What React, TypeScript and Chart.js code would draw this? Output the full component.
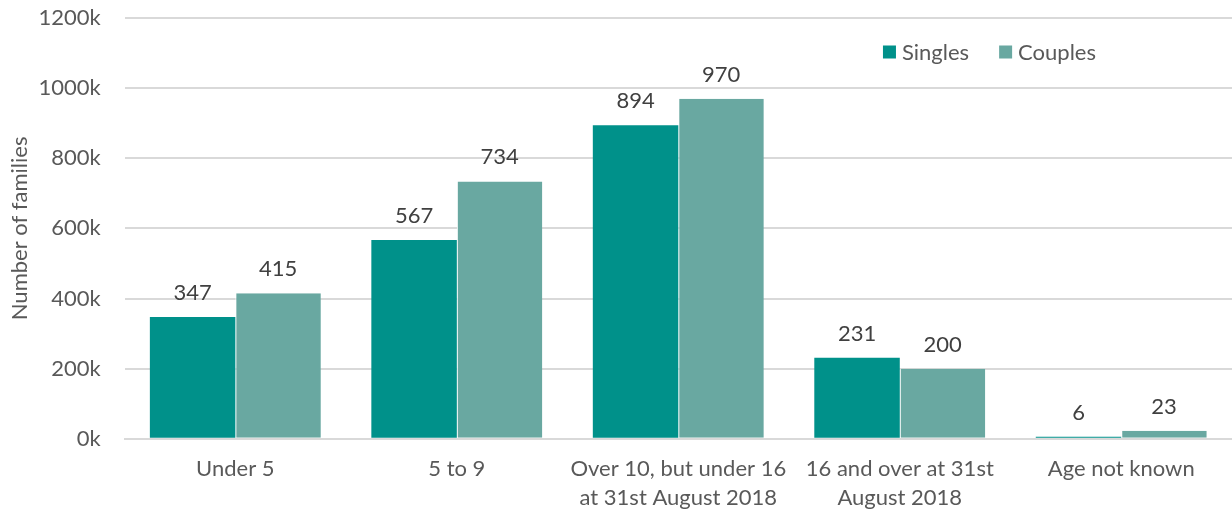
import React, { useEffect, useRef } from "react";
import { Chart, registerables } from "chart.js";

Chart.register(...registerables);

const categories: (string | string[])[] = [
  "Under 5",
  "5 to 9",
  ["Over 10, but under 16", "at 31st August 2018"],
  ["16 and over at 31st", "August 2018"],
  "Age not known",
];
const singlesValues = [347, 567, 894, 231, 6];
const couplesValues = [415, 734, 970, 200, 23];
const yTicks = [0, 200, 400, 600, 800, 1000, 1200];

const FONT = "Lato, 'Open Sans', sans-serif";
const TEXT = "#595959";
const SINGLES_COLOR = "#00918A";
const COUPLES_COLOR = "#69A8A1";

const labelPlugin = {
  id: "valueLabels",
  afterDatasetsDraw(chart: any) {
    const ctx = chart.ctx;
    ctx.save();
    ctx.font = `22px ${FONT}`;
    ctx.fillStyle = "#404040";
    ctx.textAlign = "center";
    ctx.textBaseline = "alphabetic";
    chart.data.datasets.forEach((ds: any, i: number) => {
      const meta = chart.getDatasetMeta(i);
      meta.data.forEach((bar: any, j: number) => {
        ctx.fillText(String(ds.data[j]), bar.x, bar.y - 17);
      });
    });
    ctx.restore();
  },
};

const legendPlugin = {
  id: "insideLegend",
  afterDraw(chart: any) {
    const ctx = chart.ctx;
    const area = chart.chartArea;
    ctx.save();
    ctx.font = `22px ${FONT}`;
    ctx.textBaseline = "middle";
    ctx.textAlign = "left";
    const y = area.top + 34;
    const box = 13;
    const gap = 6;
    const spacing = 30;
    const widths = chart.data.datasets.map((ds: any) => box + gap + ctx.measureText(ds.label).width);
    const total = widths.reduce((a: number, b: number) => a + b, 0) + spacing * (widths.length - 1);
    let x = area.right - 136 - total;
    chart.data.datasets.forEach((ds: any, i: number) => {
      ctx.fillStyle = ds.backgroundColor;
      ctx.fillRect(x, y - box / 2, box, box);
      ctx.fillStyle = TEXT;
      ctx.fillText(ds.label, x + box + gap, y + 1);
      x += widths[i] + spacing;
    });
    ctx.restore();
  },
};

export default function App() {
  const ref = useRef<HTMLCanvasElement>(null);
  useEffect(() => {
    if (!ref.current) return;
    const chart = new Chart(ref.current, {
      type: "bar",
      data: {
        labels: categories,
        datasets: [
          {
            label: "Singles",
            data: singlesValues,
            backgroundColor: SINGLES_COLOR,
            categoryPercentage: 0.772,
            barPercentage: 1,
          },
          {
            label: "Couples",
            data: couplesValues,
            backgroundColor: COUPLES_COLOR,
            borderColor: "#ffffff",
            borderWidth: { left: 1, right: 0, top: 0, bottom: 0 },
            categoryPercentage: 0.772,
            barPercentage: 1,
          },
        ],
      },
      options: {
        animation: false,
        responsive: true,
        maintainAspectRatio: false,
        layout: { padding: { top: 18, right: 0, left: 5, bottom: -14 } },
        plugins: {
          legend: { display: false },
          tooltip: { enabled: false },
        },
        scales: {
          x: {
            grid: { display: false, drawTicks: false },
            border: { color: "#d9d9d9", width: 2 },
            ticks: {
              color: TEXT,
              font: { family: FONT, size: 22, lineHeight: 1.3 },
              padding: 16,
              maxRotation: 0,
              autoSkip: false,
            },
          },
          y: {
            min: 0,
            max: 1200,
            afterBuildTicks(axis: any) {
              axis.ticks = yTicks.map((v) => ({ value: v }));
            },
            grid: {
              color: "#d9d9d9",
              drawTicks: true,
              tickLength: 24,
              tickColor: "rgba(0,0,0,0)",
              lineWidth: 2,
            },
            border: { display: false },
            ticks: {
              color: TEXT,
              font: { family: FONT, size: 22 },
              padding: 0,
              callback: (v: any) => `${v}k`,
            },
            title: {
              display: true,
              text: "Number of families",
              color: TEXT,
              font: { family: FONT, size: 22 },
              padding: { top: 2, bottom: 5 },
            },
          },
        },
      },
      plugins: [labelPlugin, legendPlugin],
    });
    return () => chart.destroy();
  }, []);
  return (
    <div style={{ position: "fixed", left: 0, top: 0, width: 1232, height: 514, background: "#fff" }}>
      <canvas ref={ref} />
    </div>
  );
}
